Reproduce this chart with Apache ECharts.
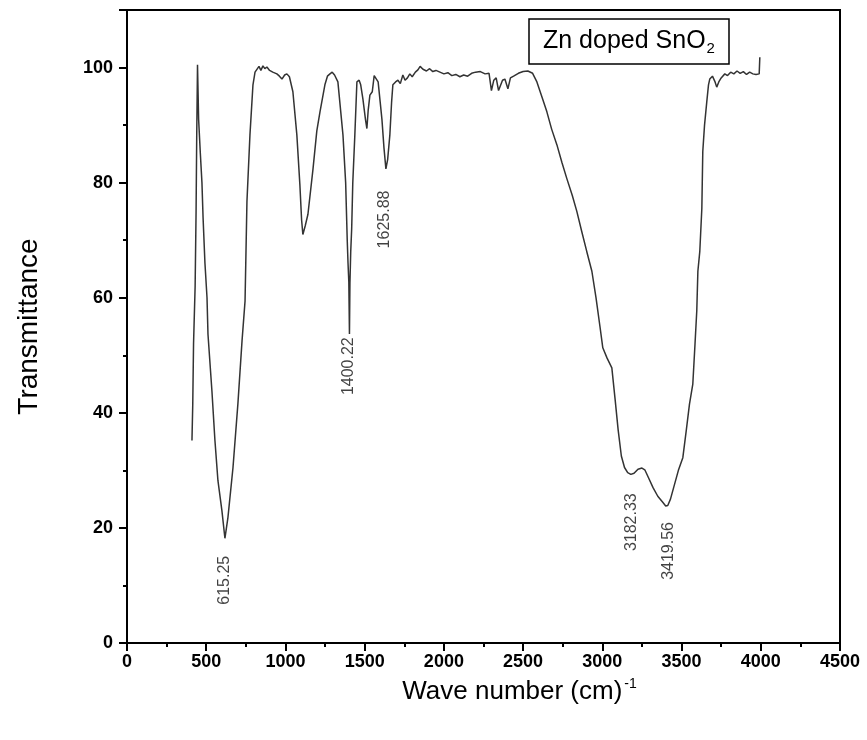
<!DOCTYPE html>
<html>
<head>
<meta charset="utf-8">
<script src="https://cdn.jsdelivr.net/npm/echarts@6/dist/echarts.min.js"></script>
<style>
  html, body { margin: 0; padding: 0; background: #fff; }
  #chart { width: 867px; height: 740px; }
</style>
</head>
<body>
<div id="chart"></div>
<script>
// FTIR spectrum of Zn doped SnO2
const waveNumber = [
  410, 415, 420, 430, 436, 440, 445, 452, 463, 473, 480, 492, 505, 511, 536, 555, 574, 599, 618, 625,
  637, 669, 700, 726, 745, 757, 776, 795, 808, 820, 833, 845, 858, 870, 883, 900, 920, 946, 962, 978,
  995, 1009, 1025, 1047, 1072, 1091, 1102, 1110, 1125, 1142, 1174, 1198, 1218, 1249, 1265, 1281, 1295, 1310, 1331, 1363,
  1380, 1390, 1395, 1400, 1404, 1407, 1412, 1418, 1425, 1438, 1451, 1465, 1475, 1489, 1505, 1514, 1522, 1533, 1548, 1560,
  1570, 1585, 1598, 1609, 1622, 1634, 1645, 1659, 1670, 1678, 1695, 1710, 1725, 1741, 1755, 1770, 1785, 1800, 1820, 1836,
  1850, 1868, 1890, 1910, 1930, 1950, 1975, 2000, 2025, 2050, 2075, 2101, 2125, 2150, 2175, 2200, 2230, 2260, 2285, 2300,
  2315, 2330, 2345, 2355, 2370, 2385, 2404, 2420, 2440, 2470, 2500, 2530, 2560, 2587, 2620, 2650, 2680, 2713, 2745, 2776,
  2810, 2839, 2870, 2902, 2934, 2960, 2985, 3003, 3030, 3060, 3080, 3100, 3120, 3140, 3160, 3180, 3200, 3225, 3250, 3268,
  3290, 3320, 3350, 3380, 3400, 3413, 3430, 3450, 3480, 3508, 3530, 3550, 3571, 3585, 3596, 3603, 3615, 3628, 3634, 3645,
  3659, 3670, 3678, 3695, 3710, 3722, 3735, 3750, 3773, 3790, 3810, 3830, 3850, 3870, 3890, 3910, 3930, 3950, 3970, 3981,
  3990, 3994
]
const transmittance = [
  35.2, 41.5, 52, 62, 75, 88, 100.5, 91, 85, 80, 74, 66, 60, 53.7, 43.8, 35.2, 28.2, 23, 18.2, 18,
  21.8, 30.5, 41.6, 52.5, 59.4, 76.7, 88.3, 97, 99.2, 99.2, 100.2, 99.5, 100.3, 99.8, 100.1, 99.5, 99.2, 98.9, 98.5, 98,
  98.7, 98.9, 98.4, 95.8, 88.3, 79.7, 73.5, 71, 72.5, 74.5, 82.4, 89, 92.3, 97, 98.5, 98.9, 99.2, 98.7, 97.5, 88.3,
  80, 70, 66, 62.8, 53.7, 62.5, 68, 72, 80, 88.3, 97.5, 97.8, 97, 94.5, 91, 89.4, 92.5, 95.2, 95.8, 98.6,
  98.4, 97.5, 94, 91, 86, 82.4, 84, 88.3, 94, 97, 97.5, 97.8, 97.2, 98.7, 97.8, 98.2, 98.9, 98.4, 99.2, 99.6,
  100.2, 99.7, 99.4, 99.8, 99.3, 99.5, 99.2, 98.9, 99.1, 98.6, 98.8, 98.4, 98.7, 98.5, 99, 99.2, 99.3, 98.9, 99, 96,
  97.8, 98.2, 96, 95.8, 97.8, 98, 96.3, 98.2, 98.5, 99, 99.3, 99.4, 99, 97.5, 94.8, 92.3, 89.3, 86.6, 83.5, 80.7,
  77.8, 75, 71.5, 68, 64.6, 60, 55, 51.3, 49.5, 47.8, 42.5, 37, 32.5, 30.5, 29.6, 29.3, 29.5, 30.2, 30.4, 30.1,
  28.8, 27, 25.5, 24.5, 23.8, 23.9, 25, 27, 30, 32.2, 37, 41.5, 45, 52, 57.7, 64.6, 68, 75.5, 85.4, 90,
  94, 97, 98, 98.5, 97.6, 96.6, 97.5, 98.2, 98.9, 98.6, 99.2, 98.9, 99.4, 99, 99.3, 98.8, 99.2, 98.9, 98.8, 98.7,
  98.9, 101.8
]

// peak annotations: text, and the transmittance where the rotated label sits
const peakLabels = ['615.25', '1400.22', '1625.88', '3182.33', '3419.56']
const peakLabelY = [10.9, 48.1, 73.6, 21, 16]

const xTicks = { min: 0, max: 4500, interval: 500 }
const yTicks = { min: 0, max: 110, interval: 20 }

const chart = echarts.init(document.getElementById('chart'))

const option = {
  backgroundColor: '#fff',
  animation: false,
  title: {
    text: '{t|Zn doped SnO}{s|2}',
    left: 529,
    top: 18,
    padding: [8, 14, 8, 14],
    borderColor: '#000',
    borderWidth: 1.5,
    textStyle: {
      fontWeight: 'normal',
      rich: {
        t: { fontFamily: 'Liberation Sans', fontWeight: 'normal', fontSize: 25, color: '#000', lineHeight: 30 },
        s: { fontFamily: 'Liberation Sans', fontWeight: 'normal', fontSize: 15, color: '#000', verticalAlign: 'bottom', lineHeight: 30, padding: [14, 0, 0, 1] },
      },
    },
  },
  grid: {
    left: 127,
    right: 27,
    top: 10,
    bottom: 97,
    show: true,
    borderColor: '#000',
    borderWidth: 2,
    containLabel: false,
  },
  xAxis: {
    type: 'value',
    min: xTicks.min,
    max: xTicks.max,
    interval: xTicks.interval,
    name: '{a|Wave number (cm)}{b|-1}',
    nameLocation: 'middle',
    nameGap: 34,
    nameTextStyle: {
      padding: [0, 0, 0, 72],
      rich: {
        a: { fontFamily: 'Liberation Sans', fontSize: 26, color: '#000', lineHeight: 30 },
        b: { fontFamily: 'Liberation Sans', fontSize: 14, color: '#000', verticalAlign: 'top', lineHeight: 30, padding: [0, 0, 14, 2] },
      },
    },
    axisLine: { show: true, onZero: false, lineStyle: { color: '#000', width: 2 } },
    axisTick: { show: true, length: 8, lineStyle: { color: '#000', width: 2 } },
    minorTick: { show: true, splitNumber: 2, length: 4, lineStyle: { color: '#000', width: 2 } },
    axisLabel: {
      color: '#000',
      fontFamily: 'Liberation Sans',
      fontWeight: 'bold',
      fontSize: 18,
      margin: 10,
      formatter: v => String(v),
    },
    splitLine: { show: false },
  },
  yAxis: {
    type: 'value',
    min: yTicks.min,
    max: yTicks.max,
    interval: yTicks.interval,
    name: 'Transmittance',
    nameLocation: 'middle',
    nameGap: 84,
    nameTextStyle: { fontFamily: 'Liberation Sans', fontSize: 28, color: '#000' },
    axisLine: { show: true, onZero: false, lineStyle: { color: '#000', width: 2 } },
    axisTick: { show: true, length: 8, lineStyle: { color: '#000', width: 2 } },
    minorTick: { show: true, splitNumber: 2, length: 4, lineStyle: { color: '#000', width: 2 } },
    axisLabel: {
      color: '#000',
      fontFamily: 'Liberation Sans',
      fontWeight: 'bold',
      fontSize: 18,
      margin: 14,
      showMaxLabel: false,
      formatter: v => (v > 100 ? '' : String(v)),
    },
    splitLine: { show: false },
  },
  series: [
    {
      name: 'Zn doped SnO2',
      type: 'line',
      data: waveNumber.map((x, i) => [x, transmittance[i]]),
      showSymbol: false,
      lineStyle: { color: '#333', width: 1.5 },
    },
    {
      name: 'peaks',
      type: 'scatter',
      symbolSize: 0,
      data: peakLabels.map((t, i) => ({ value: [parseFloat(t), peakLabelY[i]], name: t })),
      label: {
        show: true,
        position: 'inside',
        rotate: 90,
        formatter: p => p.name,
        fontFamily: 'Liberation Sans',
        fontSize: 16,
        color: '#111',
      },
    },
  ],
}

chart.setOption(option)
</script>
</body>
</html>
